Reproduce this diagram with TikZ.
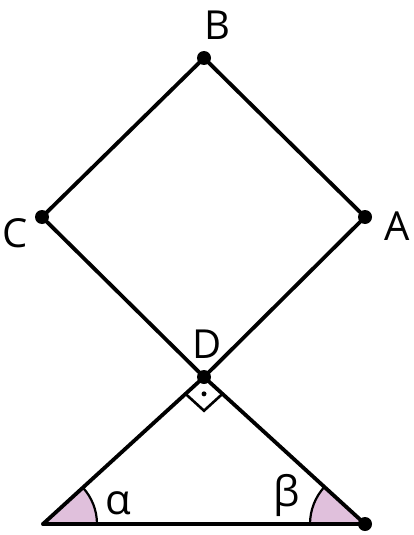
\documentclass[tikz,border=0pt]{standalone}
\usepackage{fontspec}
\setmainfont{Open Sans}
\usetikzlibrary{calc}
\definecolor{anglepink}{RGB}{224,192,220}
\tikzset{
  seg/.style={line width=3.8pt, line cap=round, line join=round},
  dot/.style={circle, fill=black, inner sep=0pt, minimum size=14pt},
  lab/.style={font=\fontsize{40}{42}\selectfont, inner sep=0pt},
  glab/.style={font=\fontsize{42}{44}\selectfont, inner sep=0pt},
  anglefill/.style={fill=anglepink, draw=black, line width=2.2pt}
}
\begin{document}
\begin{tikzpicture}[x=1pt,y=-1pt]
\useasboundingbox (0,0) rectangle (413,535);
\coordinate (B) at (204,58);
\coordinate (C) at (42,217);
\coordinate (A) at (365,217);
\coordinate (D) at (204,377);
\coordinate (L) at (43,524);
\coordinate (R) at (365,524);
% angle fills
\fill[anglepink] (L) -- ++(54,0) arc[start angle=0, end angle=-42.5, radius=54] -- cycle;
\draw[line width=2.2pt] ($(L)+(54,0)$) arc[start angle=0, end angle=-42.5, radius=54];
\fill[anglepink] (R) -- ++(-55,0) arc[start angle=180, end angle=222.6, radius=55] -- cycle;
\draw[line width=2.2pt] ($(R)+(-55,0)$) arc[start angle=180, end angle=222.6, radius=55];
% lines
\draw[seg] (C) -- (B) -- (A);
\draw[seg] (C) -- (D) -- (R);
\draw[seg] (A) -- (D) -- (L);
\draw[seg] (L) -- (R);
% right angle mark
\coordinate (P1) at ($(D)!25pt!(L)$);
\coordinate (P2) at ($(D)!25pt!(R)$);
\coordinate (P3) at ($(P1)+(P2)-(D)$);
\draw[line width=2.6pt, line join=miter] (P1) -- (P3) -- (P2);
\node[circle, fill=black, inner sep=0pt, minimum size=5pt] (rd) at ($(D)!0.5!(P3)$) {};
% dots
\node[dot] (nB) at (B) {};
\node[dot] (nC) at (C) {};
\node[dot] (nA) at (A) {};
\node[dot] (nD) at (D) {};
\node[dot] (nR) at (R) {};
% labels
\node[lab] (tB) at (217,25) {B};
\node[lab] (tC) at (15,233) {C};
\node[lab] (tA) at (397,226) {A};
\node[lab] (tD) at (207,344) {D};
\node[glab] (ta) at (118,503) {α};
\node[glab] (tb) at (287,495) {β};
\end{tikzpicture}
\end{document}
